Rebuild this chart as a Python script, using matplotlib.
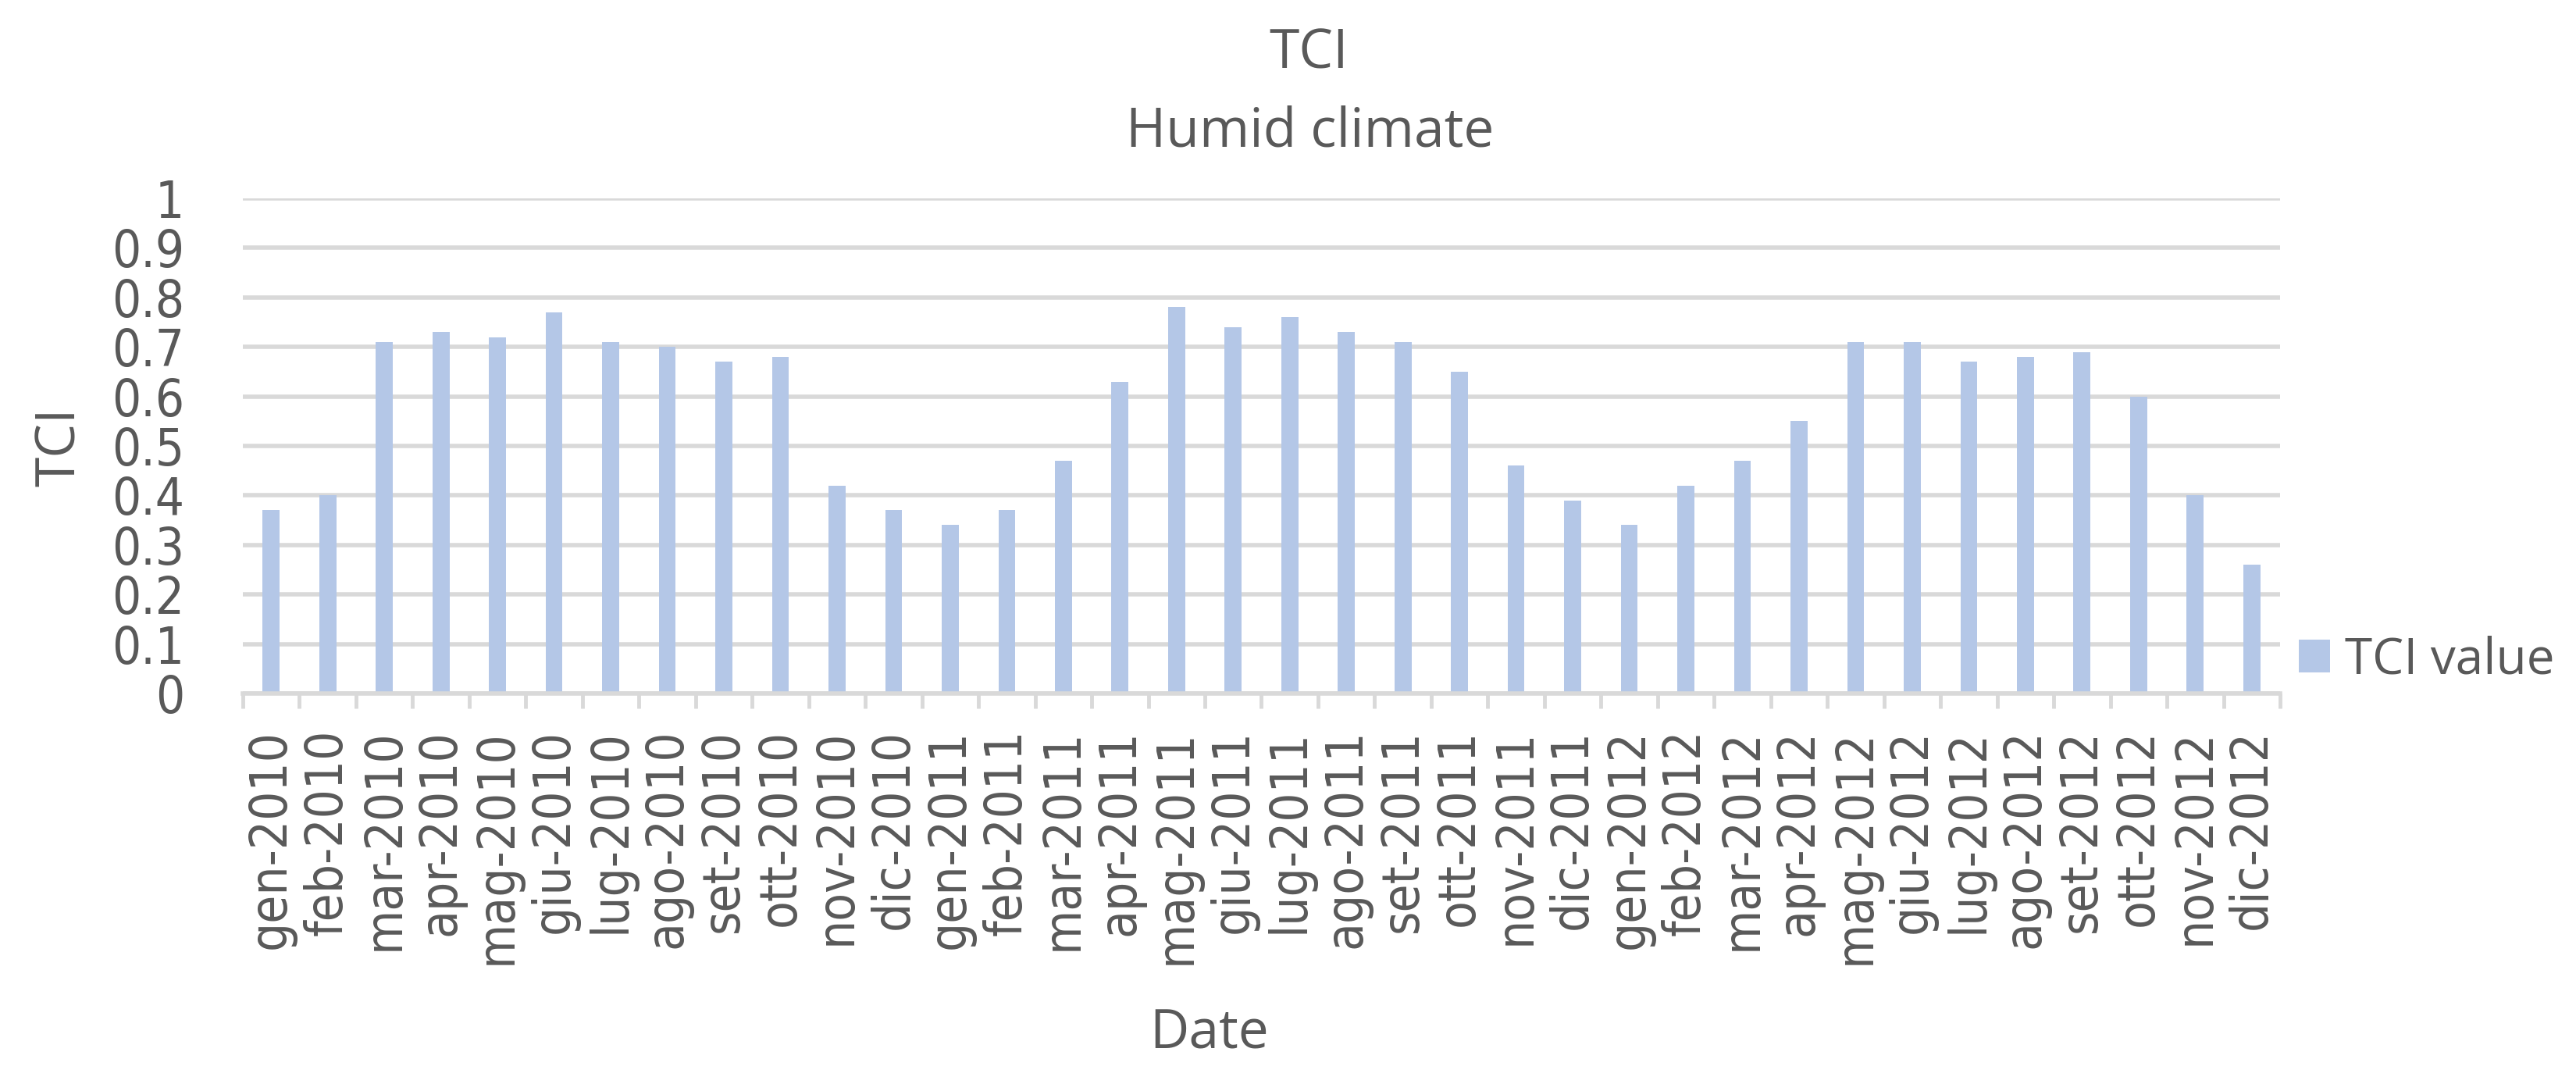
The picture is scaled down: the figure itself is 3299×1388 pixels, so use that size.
import numpy as np
import matplotlib
matplotlib.use("Agg")
import matplotlib.pyplot as plt
from matplotlib.ticker import FixedLocator
from matplotlib.patches import Patch
from matplotlib import font_manager as fm

categories = [
    "gen-2010", "feb-2010", "mar-2010", "apr-2010", "mag-2010", "giu-2010",
    "lug-2010", "ago-2010", "set-2010", "ott-2010", "nov-2010", "dic-2010",
    "gen-2011", "feb-2011", "mar-2011", "apr-2011", "mag-2011", "giu-2011",
    "lug-2011", "ago-2011", "set-2011", "ott-2011", "nov-2011", "dic-2011",
    "gen-2012", "feb-2012", "mar-2012", "apr-2012", "mag-2012", "giu-2012",
    "lug-2012", "ago-2012", "set-2012", "ott-2012", "nov-2012", "dic-2012",
]
tci_values = [
    0.37, 0.40, 0.71, 0.73, 0.72, 0.77, 0.71, 0.70, 0.67, 0.68, 0.42, 0.37,
    0.34, 0.37, 0.47, 0.63, 0.78, 0.74, 0.76, 0.73, 0.71, 0.65, 0.46, 0.39,
    0.34, 0.42, 0.47, 0.55, 0.71, 0.71, 0.67, 0.68, 0.69, 0.60, 0.40, 0.26,
]
y_ticks = [0, 0.1, 0.2, 0.3, 0.4, 0.5, 0.6, 0.7, 0.8, 0.9, 1]
y_tick_labels = ["0", "0.1", "0.2", "0.3", "0.4", "0.5", "0.6", "0.7", "0.8", "0.9", "1"]
series_name = "TCI value"

TEXT = "#595959"
GRID = "#D9D9D9"
BAR = "#B4C7E7"
TFONT = ["Open Sans", "DejaVu Sans"]

# tick-label font: condensed DejaVu if present
cond_path = fm.findfont(fm.FontProperties(family="DejaVu Sans", stretch="condensed"))
if "Condensed" in cond_path:
    tick_fp = dict(family="DejaVu Sans", stretch="condensed")
    TICK_SIZE = 47
else:
    tick_fp = dict(family="DejaVu Sans")
    TICK_SIZE = 42

fig = plt.figure(figsize=(32.99, 13.88), dpi=100)
ax = fig.add_axes([311 / 3299, 500 / 1388, (2920 - 311) / 3299, (888 - 254) / 1388])

x = np.arange(len(categories))
ax.bar(x, tci_values, width=0.30, color=BAR, zorder=2)

ax.set_xlim(-0.5, len(categories) - 0.5)
ax.set_ylim(0, 1)
ax.set_yticks(y_ticks)
ax.set_yticklabels(y_tick_labels, **tick_fp)
ax.yaxis.grid(True, color=GRID, linewidth=4.0, zorder=0)
ax.set_axisbelow(True)

for s in ["top", "right", "left"]:
    ax.spines[s].set_visible(False)
ax.spines["bottom"].set_color(GRID)
ax.spines["bottom"].set_linewidth(4.0)

ax.set_xticks(x)
ax.set_xticklabels(categories, rotation=90, **tick_fp)
ax.xaxis.set_minor_locator(FixedLocator(np.arange(len(categories) + 1) - 0.5))
ax.tick_params(axis="x", which="major", length=0, pad=33, labelsize=TICK_SIZE, labelcolor=TEXT)
ax.tick_params(axis="x", which="minor", length=14, width=3.5, color=GRID)
ax.tick_params(axis="y", length=0, pad=54, labelsize=TICK_SIZE, labelcolor=TEXT)

fig.text(0.0236, 0.588, "TCI", rotation=90, ha="center", va="center", fontsize=50,
         color=TEXT, family=TFONT)
fig.text(1549 / 3299, 0.0331, "Date", ha="center", va="baseline", fontsize=50,
         color=TEXT, family=TFONT)

fig.text(1676 / 3299, 0.9366, "TCI", ha="center", va="baseline", fontsize=50, color=TEXT, family=TFONT)
fig.text(1678 / 3299, 0.8646, "Humid climate", ha="center", va="baseline", fontsize=50, color=TEXT, family=TFONT)

leg = fig.legend(handles=[Patch(facecolor=BAR, edgecolor="none", label=series_name)],
                 loc="center left", bbox_to_anchor=(2944 / 3299, 0.391), frameon=False,
                 prop={"family": TFONT, "size": 46}, handlelength=0.63, handleheight=0.65,
                 handletextpad=0.3, borderpad=0, borderaxespad=0)
for t in leg.get_texts():
    t.set_color(TEXT)

fig.savefig("out.png", dpi=100, facecolor="white")
